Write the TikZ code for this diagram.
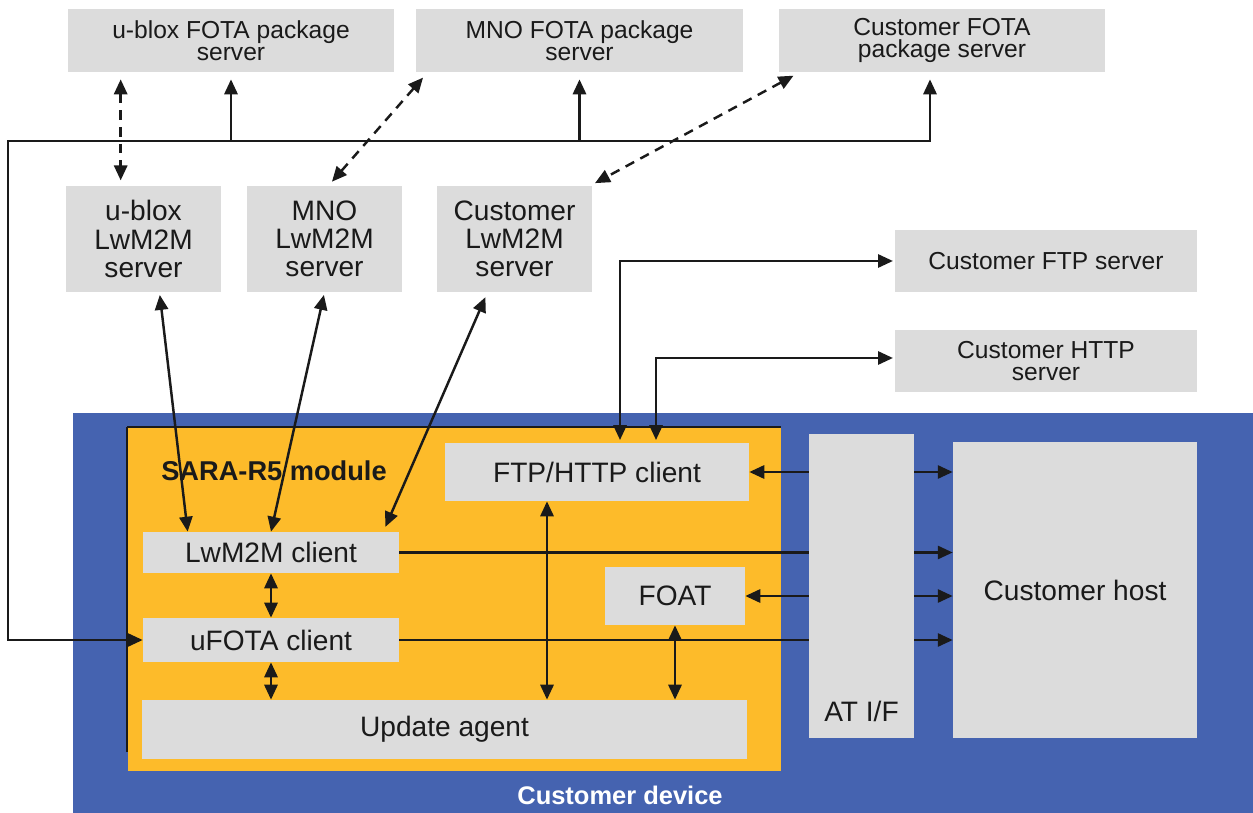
\documentclass[tikz,border=0pt]{standalone}
\usepackage{fontspec}
\setmainfont{Liberation Sans}
\usepackage{tikz}
\usetikzlibrary{arrows.meta, positioning, calc}

\definecolor{boxgray}{RGB}{220,220,220}
\definecolor{devblue}{RGB}{69,99,176}
\definecolor{modorange}{RGB}{253,187,42}
\definecolor{inkblack}{RGB}{26,26,26}

\begin{document}
\begin{tikzpicture}[x=0.02cm, y=-0.02cm,
    >={Triangle[length=8.5pt,width=7.5pt]},
    box/.style={fill=boxgray, inner sep=0pt, align=center, text=inkblack},
    big/.style={font=\fontsize{16}{16}\selectfont},
    small/.style={font=\fontsize{14}{12.5}\selectfont},
    link/.style={draw=inkblack, line width=1.4pt},
    dlink/.style={link, dash pattern=on 5.5pt off 4pt}]

    \useasboundingbox (0,0) rectangle (1253,813);

    % Device and module
    \fill[devblue] (73,413) rectangle (1253,813);
    \fill[modorange] (128,427) rectangle (781,771);
    \draw[inkblack, line width=1.4pt] (127,752) -- (127,427);
    \draw[inkblack, line width=0.7pt] (127,427) -- (781,427);
    \node[font=\fontsize{14.5}{14.5}\selectfont\bfseries, text=white] (devlbl) at (620,795) {Customer device};
    \node[font=\fontsize{15.5}{15.5}\selectfont\bfseries, text=inkblack] (modlbl) at (274,471) {SARA-R5 module};

    % FOTA package servers
    \node[box, small, minimum width=6.52cm, minimum height=1.26cm] (ubfota) at (231,40.5) {u-blox FOTA package\\server};
    \node[box, small, minimum width=6.54cm, minimum height=1.26cm] (mnofota) at (579.5,40.5) {MNO FOTA package\\server};
    \node[box, small, minimum width=6.52cm, minimum height=1.26cm] (cusfota) at (942,40.5) {Customer FOTA\\package server};

    % LwM2M servers
    \node[box, big, minimum width=3.1cm, minimum height=2.12cm] (ublwm) at (143.5,239) {u-blox\\LwM2M\\server};
    \node[box, big, minimum width=3.1cm, minimum height=2.12cm] (mnolwm) at (324.5,239) {MNO\\LwM2M\\server};
    \node[box, big, minimum width=3.1cm, minimum height=2.12cm] (cuslwm) at (514.5,239) {Customer\\LwM2M\\server};

    % FTP and HTTP servers
    \node[box, small, minimum width=6.04cm, minimum height=1.24cm] (ftpsrv) at (1046,261) {Customer FTP server};
    \node[box, small, minimum width=6.04cm, minimum height=1.24cm] (httpsrv) at (1046,361) {Customer HTTP\\server};

    % Module blocks
    \node[box, big, minimum width=6.08cm, minimum height=1.16cm] (ftpcl) at (597,472) {FTP/HTTP client};
    \node[box, big, minimum width=5.12cm, minimum height=0.82cm] (lwmcl) at (271,552.5) {LwM2M client};
    \node[box, big, minimum width=5.12cm, minimum height=0.88cm] (ufotacl) at (271,640) {uFOTA client};
    \node[box, big, minimum width=2.8cm, minimum height=1.16cm] (foat) at (675,596) {FOAT};
    \node[box, big, minimum width=12.1cm, minimum height=1.18cm] (agent) at (444.5,729.5) {Update agent};

    % Interface and host
    \node[box, minimum width=2.1cm, minimum height=6.08cm,
          label={[big, text=inkblack, anchor=south, yshift=0.2cm]south:AT I/F}] (atif) at (861.5,586) {};
    \node[box, big, minimum width=4.88cm, minimum height=5.92cm] (host) at (1075,590) {Customer host};

    % Bus to FOTA servers
    \coordinate (busL) at (8,141);
    \draw[link, <->, shorten >=4pt] (ufotacl.west) -| (busL) -| ($(cusfota.south)+(-12,0)$);
    \draw[link, ->, shorten >=4pt] (busL -| ubfota.south) -- (ubfota.south);
    \draw[link, ->, shorten >=4pt] (busL -| mnofota.south) -- (mnofota.south);

    % FOTA servers to LwM2M servers
    \coordinate (ubd) at ($(ubfota.south west)+(53,0)$);
    \draw[dlink, <->, shorten <=4pt, shorten >=3pt] (ubd) -- (ubd |- ublwm.north);
    \draw[dlink, <->, shorten <=4pt, shorten >=3pt] ($(mnofota.south west)+(12,0)$) -- ($(mnolwm.north)+(4,0)$);
    \draw[dlink, <->, shorten <=4pt, shorten >=3pt] ($(cusfota.south west)+(21,0)$) -- ($(cuslwm.north east)+(-2,0)$);

    % LwM2M servers to client
    \draw[link, <->, shorten <=1.5pt] ($(ublwm.south)+(16,0)$) -- ($(lwmcl.north west)+(45,0)$);
    \draw[link, <->, shorten <=1.5pt] (mnolwm.south) -- (lwmcl.north);
    \draw[link, <->, shorten <=3pt, shorten >=3pt] ($(cuslwm.south)+(-27,0)$) -- ($(lwmcl.north east)+(-16,0)$);

    % FTP/HTTP client to servers
    \draw[link, <->, shorten <=1.5pt, shorten >=1pt] ($(ftpcl.north)+(23,0)$) |- (ftpsrv.west);
    \draw[link, <->, shorten <=1.5pt, shorten >=1pt] ($(ftpcl.north)+(59,0)$) |- ($(httpsrv.west)+(0,-3)$);

    % Inside the module
    \draw[link, <->] (lwmcl.south) -- (ufotacl.north);
    \draw[link, <->] (ufotacl.south) -- (ufotacl.south |- agent.north);
    \coordinate (ftpdn) at ($(ftpcl.south)+(-50,0)$);
    \draw[link, <->] (ftpdn) -- (ftpdn |- agent.north);
    \draw[link, <->] (foat.south) -- (foat.south |- agent.north);

    % AT interface
    \draw[link, ->] (atif.west |- ftpcl.east) -- (ftpcl.east);
    \draw[link, ->] (atif.west |- foat.east) -- (foat.east);
    \draw[link] (lwmcl.east) -- (atif.west |- lwmcl.east);
    \draw[link] (ufotacl.east) -- (atif.west |- ufotacl.east);
    \foreach \src in {ftpcl, lwmcl, foat, ufotacl}
        \draw[link, ->] (atif.east |- \src.east) -- (host.west |- \src.east);
\end{tikzpicture}
\end{document}
